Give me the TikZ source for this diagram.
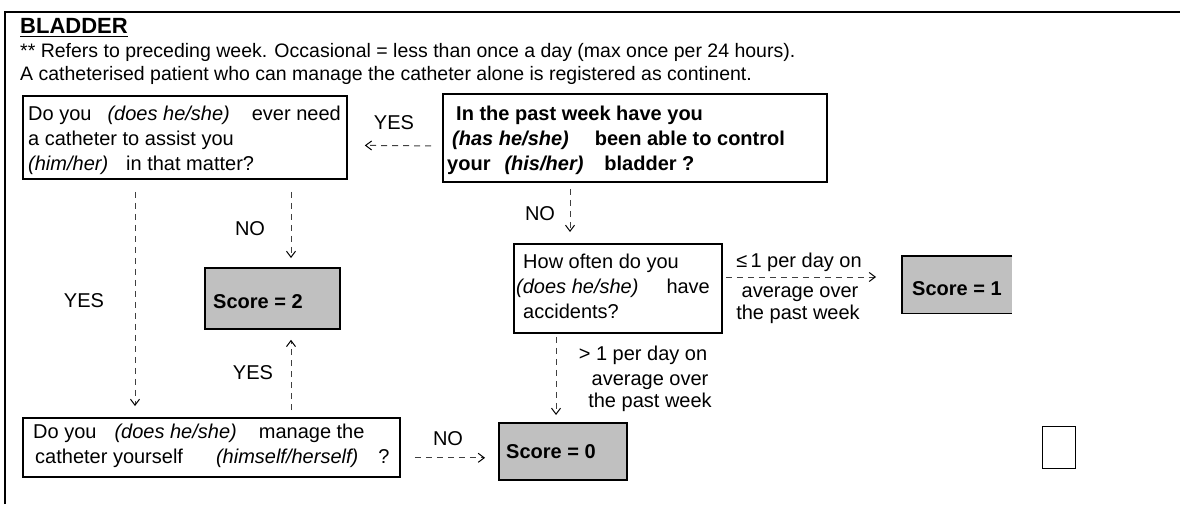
\documentclass[tikz,border=0pt]{standalone}
\usepackage{fontspec}
\setmainfont{Liberation Sans}
\usetikzlibrary{arrows.meta,calc}
\definecolor{scoregray}{HTML}{C0C0C0}
\newcommand{\lns}[2]{\vtop{\baselineskip=#1\relax #2}}
\begin{document}
\begin{tikzpicture}[x=1pt,y=-1pt,
  box/.style={draw,line width=1.8pt,anchor=north west,inner sep=0pt},
  scorebox/.style={box,fill=scoregray},
  txt/.style={font=\fontsize{20}{22}\selectfont,inner sep=0pt,anchor=base west},
  txtb/.style={font=\fontsize{20}{22}\selectfont\bfseries,inner sep=0pt,anchor=base west},
  lab/.style={font=\fontsize{20}{22}\selectfont,inner sep=0pt,anchor=base},
  conn/.style={draw=black!75,line width=1pt,dash pattern=on 6pt off 5pt,-{Straight Barb[length=6pt,width=9pt,black,sep=2pt]}},
]
\useasboundingbox (0,0) rectangle (1180,504);
% frame
\draw[line width=1.5pt] (5,504) -- (5,12) -- (1180,12);
% title and notes
\node[anchor=base west,inner sep=0pt,font=\fontsize{22}{24}\selectfont\bfseries] (title) at (20,33) {BLADDER};
\draw[line width=1.8pt] ([yshift=-3.5pt]title.base west) -- ([yshift=-3.5pt]title.base east);
\node[txt,font=\fontsize{19.5}{22}\selectfont] (n1) at (20,57) {** Refers to preceding week. Occasional = less than once a day (max once per 24 hours).};
\node[txt,font=\fontsize{19.5}{22}\selectfont] (n2) at (20,80) {A catheterised patient who can manage the catheter alone is registered as continent.};
% boxes
\node[box,minimum width=324pt,minimum height=83pt] (A) at (22,95) {};
\node[txt] (At) at (28,120) {\lns{25pt}{\hbox{Do you\hspace{16pt}\textit{(does he/she)}\hspace{22pt}ever need}\hbox{a catheter to assist you}\hbox{\textit{(him/her)}\hspace{18pt}in that matter?}}};
\node[box,minimum width=384pt,minimum height=88pt] (B) at (442,93) {};
\node[txtb] (Bt) at (447,120) {\lns{25pt}{\hbox{\hspace{9pt}In the past week have you}\hbox{\hspace{5pt}\textit{(has he/she)}\hspace{26pt}been able to control}\hbox{your\hspace{14pt}\textit{(his/her)}\hspace{21pt}bladder ?}}};
\node[box,minimum width=208pt,minimum height=89pt] (H) at (513,243) {};
\node[txt] (Ht) at (516,268) {\lns{25pt}{\hbox{\hspace{7pt}How often do you}\hbox{\textit{(does he/she)}\hspace{28pt}have}\hbox{\hspace{7pt}accidents?}}};
\node[box,minimum width=377pt,minimum height=59pt] (BB) at (22,417) {};
\node[txt] (BBt) at (33,438) {\lns{25pt}{\hbox{Do you\hspace{18pt}\textit{(does he/she)}\hspace{22pt}manage the}\hbox{\hspace{2pt}catheter yourself\hspace{33pt}\textit{(himself/herself)}\hspace{20pt}?}}};
% score boxes
\node[scorebox,minimum width=135pt,minimum height=61pt] (S2) at (204,267) {};
\node[txtb] (S2t) at (213,308) {Score = 2};
\node[anchor=north west,inner sep=0pt,fill=scoregray,minimum width=110pt,minimum height=57pt] (S1) at (902,256) {};
\draw[line width=1.8pt] (S1.north east) -- (S1.north west) -- (S1.south west) -- (S1.south east);
\node[txtb] (S1t) at (912,295) {Score = 1};
\node[scorebox,minimum width=128pt,minimum height=57pt] (S0) at (498,422) {};
\node[txtb] (S0t) at (506,458) {Score = 0};
\node[box,line width=1.2pt,minimum width=33pt,minimum height=42pt] (E) at (1042,426) {};
% labels
\node[lab] (yes1) at (394,129) {YES};
\node[lab] (no1) at (540,220) {NO};
\node[lab] (no2) at (250,235) {NO};
\node[lab] (yes2) at (84,307) {YES};
\node[lab] (yes3) at (253,379) {YES};
\node[lab] (no3) at (448,445) {NO};
\node[lab] (le1) at (799,267) {≤\,1 per day on};
\node[lab] (le2) at (800,297) {average over};
\node[lab] (le3) at (798,319) {the past week};
\node[lab] (gt1) at (643,360) {> 1 per day on};
\node[lab] (gt2) at (650,385) {average over};
\node[lab] (gt3) at (650,407) {the past week};
% connectors
\draw[conn] ($(B.west)+(-11,8)$) -- ($(A.east)+(15,8)$);
\draw[conn] ($(B.south west)+(128,6)$) -- ($(H.north west)+(57,-9)$);
\draw[conn] ($(A.south west)+(113,12)$) -- ($(BB.north west)+(113,-9)$);
\draw[conn] ($(A.south west)+(269,12)$) -- ($(S2.north west)+(87,-7)$);
\draw[conn] ($(BB.north west)+(269,-7)$) -- ($(S2.south west)+(87,8)$);
\draw[conn] ($(H.north east)+(3,34)$) -- ($(S1.north west)+(-24,21)$);
\draw[conn] ($(H.south west)+(43,3)$) -- ($(S0.north west)+(58,-5)$);
\draw[conn] ($(BB.south east)+(14,-20)$) -- ($(S0.south west)+(-11,-23)$);
\end{tikzpicture}
\end{document}
